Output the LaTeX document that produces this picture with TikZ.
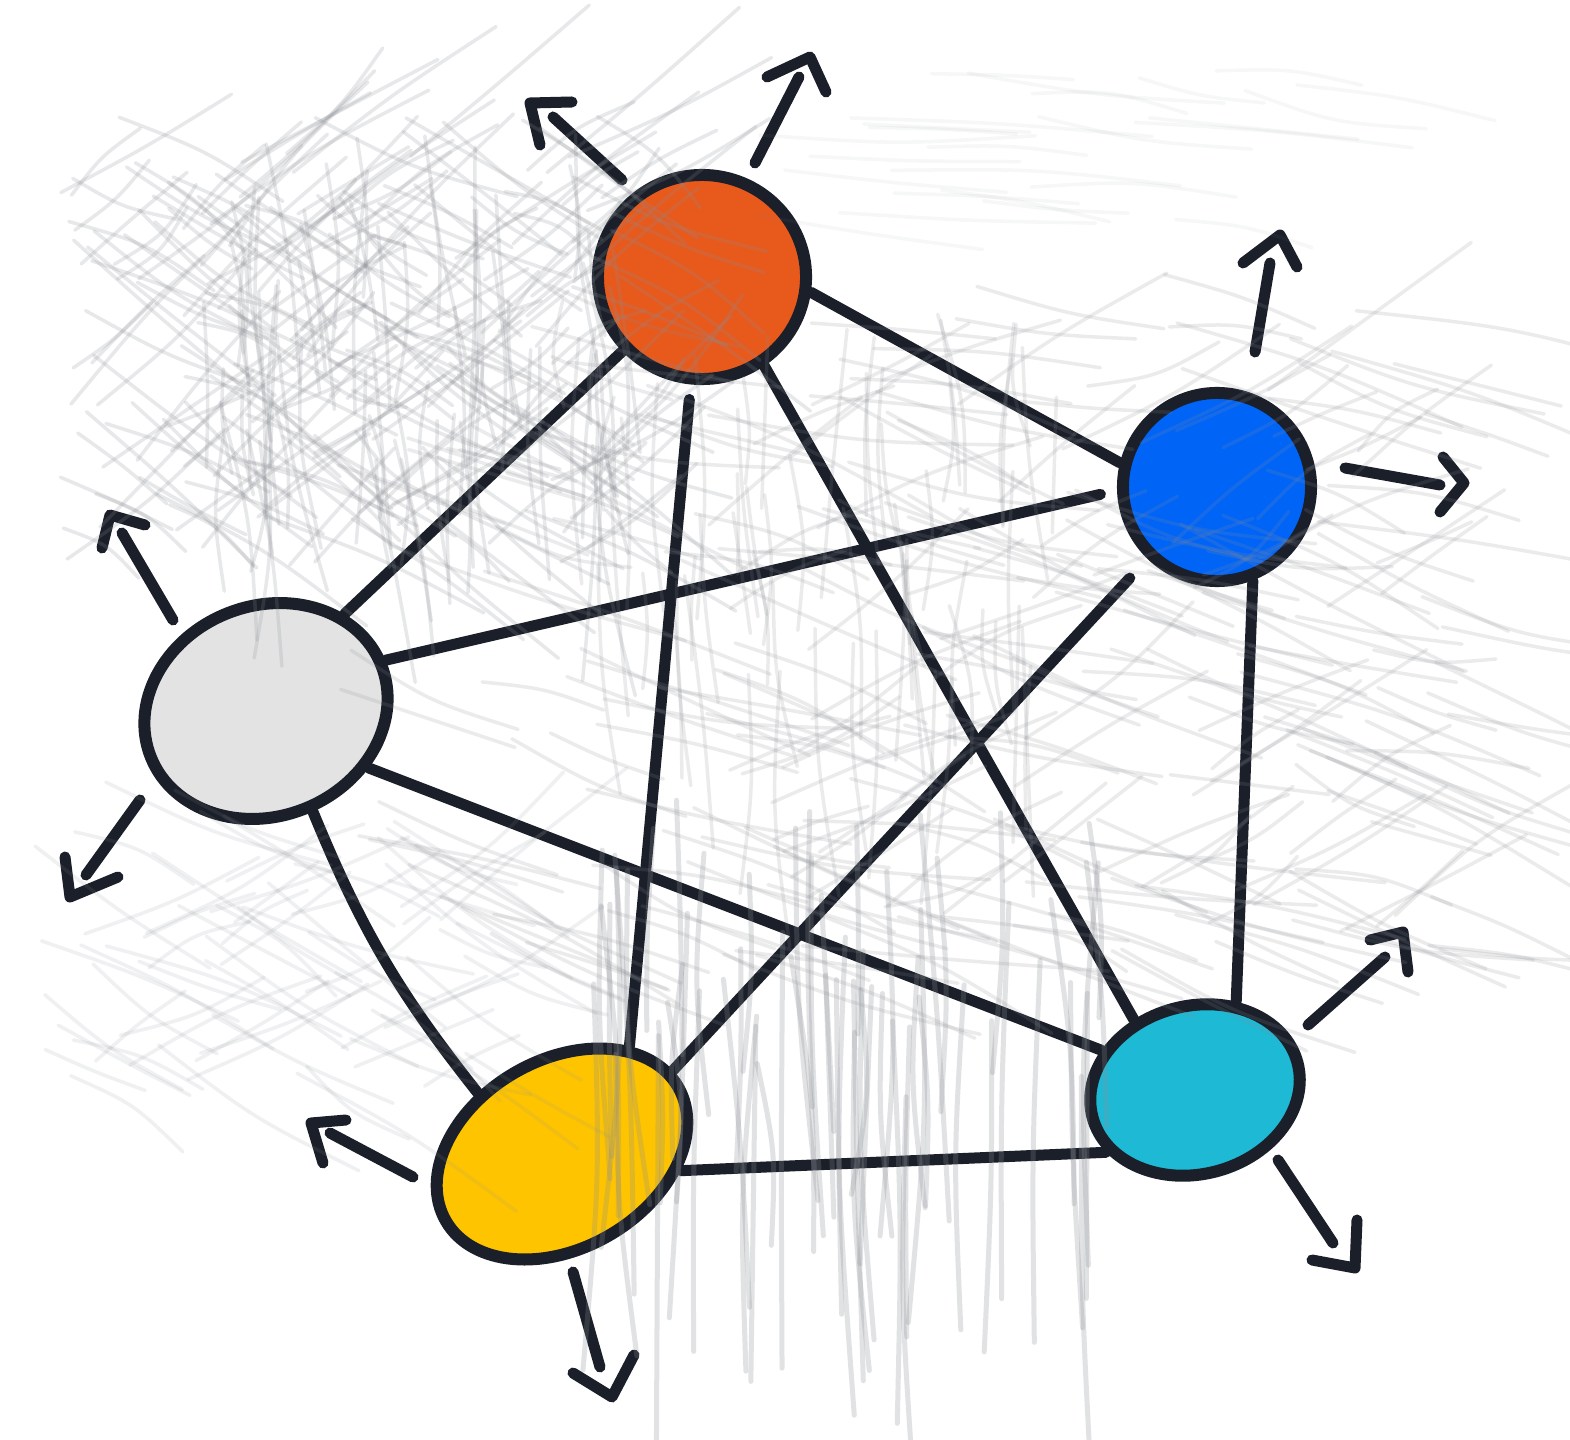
\documentclass[tikz,border=0pt]{standalone}
\usetikzlibrary{shapes.geometric}
\definecolor{ink}{HTML}{1A1F29}
\definecolor{corange}{HTML}{E8591C}
\definecolor{cblue}{HTML}{0064F7}
\definecolor{cgray}{HTML}{E3E3E3}
\definecolor{cyellow}{HTML}{FFC400}
\definecolor{ccyan}{HTML}{1EB9D5}
\definecolor{sketchgray}{HTML}{8A8E94}
\newcommand{\skb}[9]{%
  \foreach \i in {1,...,#1}{
    \pgfmathsetmacro{\px}{#2+rnd*#3}
    \pgfmathsetmacro{\py}{#4+rnd*#5}
    \pgfmathsetmacro{\ang}{#6+rand*#7}
    \pgfmathsetmacro{\len}{#8+rnd*#9}
    \pgfmathsetmacro{\bd}{rand*14}
    \pgfmathsetmacro{\ex}{\px+\len*cos(\ang)}
    \pgfmathsetmacro{\ey}{\py+\len*sin(\ang)}
    \pgfmathsetmacro{\mx}{(\px+\ex)/2-\bd*sin(\ang)}
    \pgfmathsetmacro{\my}{(\py+\ey)/2+\bd*cos(\ang)}
    \draw[sk,opacity=\skop,line width=\skw] (\px,\py) .. controls (\mx,\my) .. (\ex,\ey);
  }}
\begin{document}
\begin{tikzpicture}[x=0.01cm,y=-0.01cm,
  nd/.style={ellipse,draw=ink,line width=0.12cm,inner sep=0pt},
  edge/.style={draw=ink,line width=0.11cm,line cap=round},
  shaft/.style={draw=ink,line width=0.11cm,line cap=round},
  tip/.style={draw=ink,line width=0.11cm,line cap=round,line join=round},
  sk/.style={draw=sketchgray,line cap=round}]
\useasboundingbox (0,0) rectangle (1570,1440);
\fill[white] (0,0) rectangle (1570,1440);

% nodes
\node[nd,fill=corange,minimum width=2.08cm,minimum height=2.04cm] (O) at (702,277) {};
\node[nd,fill=cblue,minimum width=1.88cm,minimum height=1.88cm] (B) at (1217,487) {};
\node[nd,fill=cgray,minimum width=2.48cm,minimum height=2.10cm,rotate=22] (G) at (266,711) {};
\node[nd,fill=cyellow,minimum width=2.68cm,minimum height=1.88cm,rotate=30] (Y) at (562,1154) {};
\node[nd,fill=ccyan,minimum width=2.12cm,minimum height=1.68cm,rotate=15] (C) at (1195,1090) {};

% edges
\draw[edge] (O.-8) -- (B.166);
\draw[edge] (O.-137) -- (G.29);
\draw[edge,shorten <=0.15cm] (O.-96) -- (Y.28);
\draw[edge] (O.-55) -- (C.116);
\draw[edge,shorten <=0.17cm] (B.-178) -- (G.1);
\draw[edge,shorten <=0.26cm] (B.-134) -- (Y.7);
\draw[edge] (B.-69) -- (C.50);
\draw[edge] (G.-51) -- (C.142);
\draw[edge] (G.-87) to[bend right=8] (Y.114);
\draw[edge] (Y.-38) -- (C.-160);

% outgoing arrows
\coordinate (o1s) at (622,180); \coordinate (o1e) at (553,117);
\coordinate (o2s) at (755,163); \coordinate (o2e) at (799,77);
\coordinate (b1s) at (1255,352); \coordinate (b1e) at (1270,263);
\coordinate (b2s) at (1345,468); \coordinate (b2e) at (1440,485);
\coordinate (g1s) at (173,620); \coordinate (g1e) at (122,533);
\coordinate (g2s) at (140,800); \coordinate (g2e) at (86,875);
\coordinate (y1s) at (413,1177); \coordinate (y1e) at (330,1133);
\coordinate (y2s) at (573,1272); \coordinate (y2e) at (600,1367);
\coordinate (c1s) at (1308,1025); \coordinate (c1e) at (1385,957);
\coordinate (c2s) at (1278,1160); \coordinate (c2e) at (1333,1243);
\foreach \a in {o1,o2,b1,b2,g1,g2,y1,y2,c1,c2}{\draw[shaft] (\a s) -- (\a e);}
\draw[tip] (572,102) -- (530,103) -- (540,145);
\draw[tip] (767,77) -- (810,57) -- (826,92);
\draw[tip] (1243,263) -- (1280,235) -- (1297,267);
\draw[tip] (1443,457) -- (1464,483) -- (1440,512);
\draw[tip] (102,548) -- (110,515) -- (145,525);
\draw[tip] (65,857) -- (70,897) -- (118,877);
\draw[tip] (346,1120) -- (311,1123) -- (323,1163);
\draw[tip] (573,1373) -- (612,1397) -- (634,1355);
\draw[tip] (1370,940) -- (1403,932) -- (1408,972);
\draw[tip] (1312,1260) -- (1355,1268) -- (1357,1220);

% sketchy background strokes
\pgfmathsetseed{11}
\def\skw{0.035cm}
\def\skop{0.2}
% upper-left cross hatch
\skb{110}{60}{560}{110}{420}{32}{12}{90}{170}
\skb{110}{60}{560}{150}{420}{-38}{12}{90}{170}
\skb{70}{200}{420}{130}{330}{86}{8}{90}{170}
% broad middle/right, mostly gently falling strokes
\def\skop{0.17}
\skb{190}{320}{1130}{260}{700}{16}{12}{120}{200}
\skb{70}{700}{700}{380}{560}{-30}{12}{100}{160}
\skb{60}{560}{500}{300}{380}{88}{8}{100}{180}
% top faint band
\def\skop{0.07}
\skb{25}{750}{550}{60}{160}{6}{6}{120}{200}
% lower-left light diagonals
\def\skop{0.13}
\skb{45}{0}{470}{780}{300}{28}{12}{100}{170}
\skb{25}{20}{430}{850}{250}{-30}{10}{100}{150}
% lower middle vertical strokes
\def\skw{0.05cm}
\def\skop{0.25}
\skb{60}{590}{520}{800}{300}{89}{4}{180}{260}
\end{tikzpicture}
\end{document}
